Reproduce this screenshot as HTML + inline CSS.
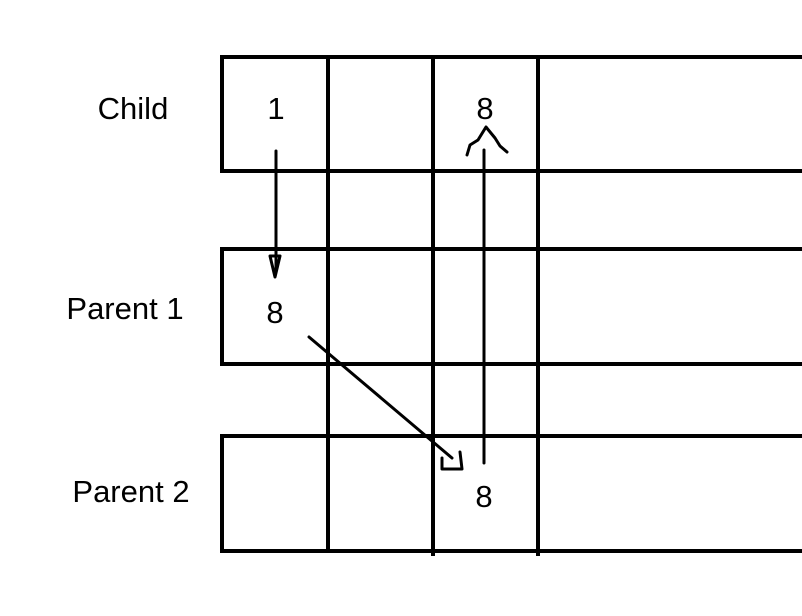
<!DOCTYPE html>
<html><head><meta charset="utf-8"><style>
html,body{margin:0;padding:0;background:#fff;}
svg{display:block;}
text{font-family:"Liberation Sans","DejaVu Sans",sans-serif;fill:#000;}
</style></head><body>
<svg width="802" height="616" viewBox="0 0 802 616">
<g stroke="#000" stroke-width="4" fill="none">
  <rect x="222" y="57" width="584" height="114"/>
  <rect x="222" y="249" width="584" height="115"/>
  <rect x="222" y="436" width="584" height="115"/>
  <line x1="328" y1="57" x2="328" y2="553"/>
  <line x1="433" y1="57" x2="433" y2="556"/>
  <line x1="538" y1="57" x2="538" y2="556"/>
</g>
<g stroke="#000" stroke-width="3" fill="none" stroke-linejoin="round" stroke-linecap="round">
  <g>
    <line x1="276" y1="151" x2="276" y2="270"/>
    <path d="M270 256 L275 277 L280 256 Z"/>
  </g>
  <g>
    <line x1="484" y1="463" x2="484" y2="150"/>
    <path d="M467 155 L470 145 L478 140 L486 127 L495 138 L500 146 L507 152"/>
  </g>
  <g>
    <line x1="309" y1="337" x2="452" y2="458"/>
    <path d="M442 458 L442 469 L462 469 L460 452"/>
  </g>
</g>
<text x="133" y="119" font-size="31" text-anchor="middle">Child</text>
<text x="125" y="319" font-size="31" text-anchor="middle">Parent 1</text>
<text x="131" y="502" font-size="31" text-anchor="middle">Parent 2</text>
<text x="276" y="119" font-size="31" text-anchor="middle">1</text>
<text x="485" y="119" font-size="31" text-anchor="middle">8</text>
<text x="275" y="323" font-size="31" text-anchor="middle">8</text>
<text x="484" y="507" font-size="31" text-anchor="middle">8</text>
</svg>
</body></html>
